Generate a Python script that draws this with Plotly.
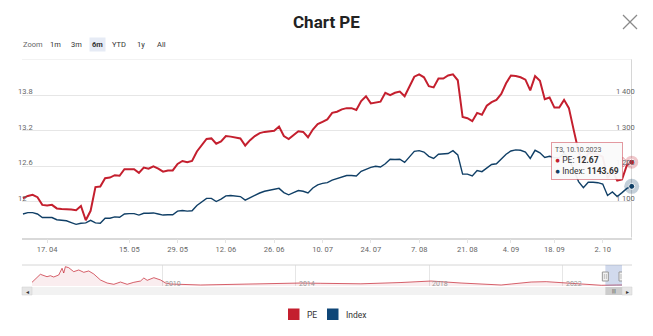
import pandas as pd
import plotly.graph_objects as go

W, H = 653, 336
RED = "#c41f2e"
BLUE = "#103f66"
FONT = "Roboto"

# ---- trading sessions (weekends and exchange holidays removed) ----
holidays = ["2023-05-01", "2023-05-02", "2023-05-03", "2023-09-01", "2023-09-04"]
sessions = pd.bdate_range("2023-04-10", "2023-10-10")
sessions = sessions[~sessions.isin(pd.to_datetime(holidays))]
dates = [d.strftime("%Y-%m-%d") for d in sessions]

# ---- market P/E ----
pe = [
    12.06, 12.10, 12.12, 12.08, 11.95, 11.94, 11.95, 11.89, 11.88, 11.88,
    11.87, 11.86, 11.93, 11.69, 11.85, 12.25, 12.26, 12.40, 12.41, 12.45,
    12.44, 12.55, 12.55, 12.55, 12.49, 12.58, 12.56, 12.60, 12.56, 12.51,
    12.53, 12.53, 12.64, 12.69, 12.67, 12.69, 12.85, 12.95, 13.06, 13.07,
    12.98, 13.02, 13.11, 13.10, 13.09, 13.07, 12.95, 13.04, 13.11, 13.16,
    13.18, 13.19, 13.20, 13.27, 13.11, 13.06, 13.12, 13.19, 13.18, 13.09,
    13.22, 13.31, 13.35, 13.39, 13.50, 13.52, 13.56, 13.58, 13.58, 13.55,
    13.70, 13.78, 13.66, 13.67, 13.69, 13.84, 13.80, 13.84, 13.86, 13.78,
    13.95, 14.11, 14.15, 14.10, 13.95, 13.93, 14.08, 14.08, 14.13, 14.15,
    14.05, 13.43, 13.41, 13.36, 13.50, 13.47, 13.62, 13.68, 13.72, 13.82,
    14.00, 14.13, 14.12, 14.10, 14.06, 13.88, 14.12, 14.04, 13.73, 13.76,
    13.59, 13.59, 13.72, 13.58, 13.21, 12.85, 12.66, 12.82, 12.82, 12.80,
    12.76, 12.40, 12.52, 12.36, 12.38, 12.62, 12.67,
]

# ---- index close ----
index_close = [
    1066, 1070, 1070, 1066, 1056, 1055, 1056, 1050, 1049, 1047,
    1042, 1037, 1040, 1041, 1048, 1041, 1040, 1054, 1054, 1058,
    1057, 1066, 1067, 1067, 1063, 1068, 1068, 1069, 1066, 1063,
    1064, 1064, 1074, 1076, 1074, 1075, 1090, 1100, 1110, 1110,
    1101, 1108, 1117, 1118, 1117, 1115, 1105, 1112, 1119, 1125,
    1130, 1133, 1135, 1138, 1126, 1120, 1126, 1132, 1130, 1125,
    1139, 1148, 1152, 1154, 1161, 1166, 1170, 1174, 1174, 1173,
    1186, 1192, 1197, 1200, 1198, 1207, 1220, 1219, 1220, 1211,
    1226, 1242, 1244, 1240, 1228, 1222, 1234, 1234, 1236, 1244,
    1232, 1178, 1178, 1173, 1188, 1185, 1196, 1205, 1207, 1222,
    1234, 1243, 1246, 1245, 1240, 1222, 1245, 1238, 1225, 1228,
    1224, 1224, 1236, 1223, 1188, 1157, 1140, 1155, 1155, 1154,
    1150, 1118, 1128, 1115, 1126, 1138, 1143.69,
]

# ---- long history shown in the navigator (P/E) ----
nav_years = [
    2006.10, 2006.35, 2006.55, 2006.65, 2006.75, 2006.90, 2007.00, 2007.05,
    2007.10, 2007.20, 2007.35, 2007.50, 2007.65, 2007.80, 2007.95, 2008.15,
    2008.35, 2008.55, 2008.75, 2008.95, 2009.15, 2009.35, 2009.45, 2009.55,
    2009.75, 2009.95, 2010.10, 2010.25, 2011.15, 2012.05, 2012.95, 2013.85,
    2014.15, 2014.75, 2015.95, 2017.15, 2018.05, 2018.95, 2020.15, 2020.45,
    2021.05, 2021.50, 2021.95, 2022.55, 2023.15, 2023.60, 2023.77,
]
nav_pe = [
    16.4, 27.7, 24.3, 25.7, 23.9, 26.7, 36.2, 29.5,
    38.4, 37.0, 31.4, 33.8, 30.5, 32.4, 28.1, 19.7,
    15.4, 13.6, 16.8, 13.6, 16.4, 18.2, 22.5, 19.2,
    22.9, 19.7, 15.4, 14.0, 12.6, 13.3, 14.7, 15.4,
    15.4, 15.0, 14.3, 16.1, 18.2, 15.4, 12.6, 14.0,
    16.8, 17.3, 15.8, 13.6, 12.2, 12.6, 12.67,
]
nav_labels = [2010, 2014, 2018, 2022]

# ---- axis ticks ----
week_ticks = ["2023-04-17", "2023-05-15", "2023-05-29", "2023-06-12", "2023-06-26",
              "2023-07-10", "2023-07-24", "2023-08-07", "2023-08-21", "2023-09-04",
              "2023-09-18", "2023-10-02"]
pe_ticks = [12.0, 12.6, 13.2, 13.8]
index_ticks = [1100, 1200, 1300, 1400]
range_buttons = ["1m", "3m", "6m", "YTD", "1y", "All"]
selected_button = "6m"
series_names = ["PE", "Index"]


def px(x):
    return x / W


def py(y):
    return 1 - y / H


def year_frac(d):
    t = pd.Timestamp(d)
    return t.year + (t.dayofyear - 1) / 365.0


def label(text, x, y, xref="paper", yref="paper", xanchor="center", size=7.5,
          color="#333333", **kw):
    return dict(text=text, xref=xref, yref=yref, x=x, y=y, xanchor=xanchor,
                yanchor=kw.pop("yanchor", "middle"), showarrow=False,
                font=dict(size=size, color=color), **kw)


tick_pos = [next(d for d in dates if d >= t) for t in week_ticks]
tick_txt = [f"{pd.Timestamp(t).day}. {pd.Timestamp(t).month:02d}" for t in week_ticks]

fig = go.Figure()

# main series
fig.add_trace(go.Scatter(x=dates, y=pe, mode="lines", name=series_names[0],
                         line=dict(color=RED, width=2), xaxis="x", yaxis="y"))
fig.add_trace(go.Scatter(x=dates, y=index_close, mode="lines", name=series_names[1],
                         line=dict(color=BLUE, width=1.4), xaxis="x", yaxis="y2"))

# hovered last point: halo + marker
fig.add_trace(go.Scatter(x=[dates[-1]], y=[pe[-1]], mode="markers", yaxis="y",
                         marker=dict(size=13, color="rgba(196,31,46,0.25)"),
                         cliponaxis=False, hoverinfo="skip"))
fig.add_trace(go.Scatter(x=[dates[-1]], y=[pe[-1]], mode="markers", yaxis="y",
                         marker=dict(size=6, color=RED, line=dict(color="white", width=1)),
                         cliponaxis=False, hoverinfo="skip"))
fig.add_trace(go.Scatter(x=[dates[-1]], y=[index_close[-1]], mode="markers", yaxis="y2",
                         marker=dict(size=15, color="rgba(16,63,102,0.25)"),
                         cliponaxis=False, hoverinfo="skip"))
fig.add_trace(go.Scatter(x=[dates[-1]], y=[index_close[-1]], mode="markers", yaxis="y2",
                         marker=dict(size=6, color=BLUE, line=dict(color="white", width=1)),
                         cliponaxis=False, hoverinfo="skip"))

# navigator series
fig.add_trace(go.Scatter(x=nav_years, y=nav_pe, mode="lines", xaxis="x2", yaxis="y3",
                         fill="tozeroy", fillcolor="rgba(196,31,46,0.08)",
                         line=dict(color="rgba(196,31,46,0.7)", width=1), hoverinfo="skip"))

fig.update_layout(
    width=W, height=H,
    margin=dict(l=0, r=0, t=0, b=0),
    paper_bgcolor="white", plot_bgcolor="white",
    showlegend=False,
    font=dict(family=FONT, color="#333333"),
    xaxis=dict(domain=[px(22), px(632)], anchor="y", type="category",
               range=[-0.2, len(dates) - 1 + 0.06],
               tickvals=tick_pos, ticktext=tick_txt,
               tickfont=dict(size=7.5, color="#666666"),
               showgrid=False, showline=True, linecolor="#d9d9d9", linewidth=1.5,
               ticks="outside", ticklen=4, tickcolor="#e3e3e3", zeroline=False),
    yaxis=dict(domain=[py(237.5), py(59.5)], anchor="x", range=[11.4, 14.4],
               tick0=11.4, dtick=0.6, showticklabels=False,
               gridcolor="#e6e6e6", gridwidth=1, zeroline=False),
    yaxis2=dict(overlaying="y", anchor="x", side="right", range=[1000, 1500],
                showgrid=False, showticklabels=False, zeroline=False),
    xaxis2=dict(domain=[px(32), px(622)], anchor="y3",
                range=[nav_years[0], nav_years[-1]],
                tickvals=nav_labels, showticklabels=False,
                showgrid=True, gridcolor="#e6e6e6", zeroline=False),
    yaxis3=dict(domain=[py(286), py(265)], anchor="x2", range=[11.2, 40.8],
                showgrid=False, showticklabels=False, zeroline=False),
)

shapes = []
# top grid line of the value axis
shapes.append(dict(type="line", xref="x domain", yref="y", x0=0, x1=1, y0=14.4, y1=14.4,
                   line=dict(color="#e6e6e6", width=1), layer="below"))
# crosshair on the hovered session
shapes.append(dict(type="line", xref="x", yref="y domain", x0=dates[-1], x1=dates[-1],
                   y0=0, y1=1, line=dict(color="#cccccc", width=1), layer="below"))
# close icon
shapes.append(dict(type="line", xref="paper", yref="paper", x0=px(623), x1=px(637),
                   y0=py(15), y1=py(29), line=dict(color="#8a8a8a", width=1.3)))
shapes.append(dict(type="line", xref="paper", yref="paper", x0=px(637), x1=px(623),
                   y0=py(15), y1=py(29), line=dict(color="#8a8a8a", width=1.3)))
# navigator outline
shapes.append(dict(type="line", xref="paper", yref="paper", x0=px(22), x1=px(632),
                   y0=py(265), y1=py(265), line=dict(color="#d6d6d6", width=1)))
# navigator selected window
sel0, sel1 = year_frac(dates[0]), nav_years[-1]
shapes.append(dict(type="rect", xref="x2", yref="y3 domain", x0=sel0, x1=sel1, y0=0, y1=1,
                   fillcolor="rgba(102,133,194,0.3)", line=dict(width=0), layer="above"))
for xv in (sel0, sel1):
    shapes.append(dict(type="rect", xref="x2", yref="paper", xsizemode="pixel", xanchor=xv,
                       x0=-3, x1=3, y0=py(281), y1=py(272), fillcolor="#f2f2f2",
                       line=dict(color="#999999", width=1), layer="above"))
    for dx in (-1, 1):
        shapes.append(dict(type="line", xref="x2", yref="paper", xsizemode="pixel", xanchor=xv,
                           x0=dx, x1=dx, y0=py(279), y1=py(274),
                           line=dict(color="#999999", width=0.6), layer="above"))
# scrollbar
shapes.append(dict(type="rect", xref="paper", yref="paper", x0=px(22), x1=px(632),
                   y0=py(295), y1=py(287), fillcolor="#f2f2f2", line=dict(width=0)))
for a, b in ((22, 32), (622, 632)):
    shapes.append(dict(type="rect", xref="paper", yref="paper", x0=px(a), x1=px(b),
                       y0=py(295), y1=py(287), fillcolor="#e6e6e6",
                       line=dict(color="#cccccc", width=0.5)))
shapes.append(dict(type="rect", xref="x2", yref="paper", x0=sel0, x1=sel1,
                   y0=py(295), y1=py(287), fillcolor="#cccccc", line=dict(width=0)))
# legend swatches
shapes.append(dict(type="rect", xref="paper", yref="paper", x0=px(288), x1=px(299.5),
                   y0=py(320), y1=py(308.5), fillcolor=RED, line=dict(width=0)))
shapes.append(dict(type="rect", xref="paper", yref="paper", x0=px(327), x1=px(338.5),
                   y0=py(320), y1=py(308.5), fillcolor="#0f4677", line=dict(width=0)))
# tooltip pointer
shapes.append(dict(type="path", xref="x", yref="y", xsizemode="pixel", ysizemode="pixel",
                   xanchor=dates[-1], yanchor=pe[-1],
                   path="M -9,5 L -4,0 L -9,-5 Z",
                   fillcolor="rgba(250,250,250,0.95)",
                   line=dict(color="rgba(196,31,46,0.45)", width=1), layer="above"))

ann = []
# title
ann.append(label("<b>Chart PE</b>", px(327), py(22), size=17, color="#222222"))
# range selector
ann.append(label("Zoom", px(33), py(45), color="#666666"))
btn_x = [55, 76, 97, 119, 141, 161]
for lbl, bx in zip(range_buttons, btn_x):
    on = lbl == selected_button
    ann.append(label(f"<b>{lbl}</b>" if on else lbl, px(bx), py(45),
                     bgcolor="#e6ebf5" if on else None, borderpad=2))
# left axis labels
for v in pe_ticks:
    ann.append(label(f"{v:g}", px(16), v, yref="y", xanchor="left", yshift=3.5,
                     color="#666666"))
# right axis labels
for v in index_ticks:
    ann.append(label(f"{v:,}".replace(",", " "), px(637), v, yref="y2", xanchor="right",
                     yshift=3.5, color="#666666"))
# navigator year labels
for yv in nav_labels:
    ann.append(label(str(yv), yv, py(283.5), xref="x2", xanchor="left", xshift=1,
                     size=7, color="#999999"))
# scrollbar arrows and grip
ann.append(label("◂", px(27), py(291), size=6))
ann.append(label("▸", px(627), py(291), size=6))
ann.append(label("|||", (sel0 + sel1) / 2, py(291), xref="x2", size=5))
# legend labels
ann.append(label(series_names[0], px(305), py(314.5), xanchor="left", size=8.5))
ann.append(label(series_names[1], px(344), py(314.5), xanchor="left", size=8.5))
# tooltip for the last session
last = pd.Timestamp(dates[-1])
wd = "CN" if last.weekday() == 6 else f"T{last.weekday() + 2}"
tip_head = f"{wd}, {last.day:02d}.{last.month:02d}.{last.year}"
tip = (f"<span style='font-size:7px;color:#555'>{tip_head}</span><br>"
       f"<span style='color:{RED}'>●</span> {series_names[0]}: <b>{pe[-1]:.2f}</b><br>"
       f"<span style='color:{BLUE}'>●</span> {series_names[1]}: <b>{index_close[-1]:.2f}</b>")
ann.append(label(tip, dates[-1], pe[-1], xref="x", yref="y", xanchor="right",
                 xshift=-8.7, yshift=1, align="left", size=8.5,
                 bgcolor="rgba(250,250,250,0.95)", bordercolor="rgba(196,31,46,0.45)",
                 borderwidth=1, borderpad=3))

fig.update_layout(shapes=shapes, annotations=ann)
fig.write_html("out.html")
